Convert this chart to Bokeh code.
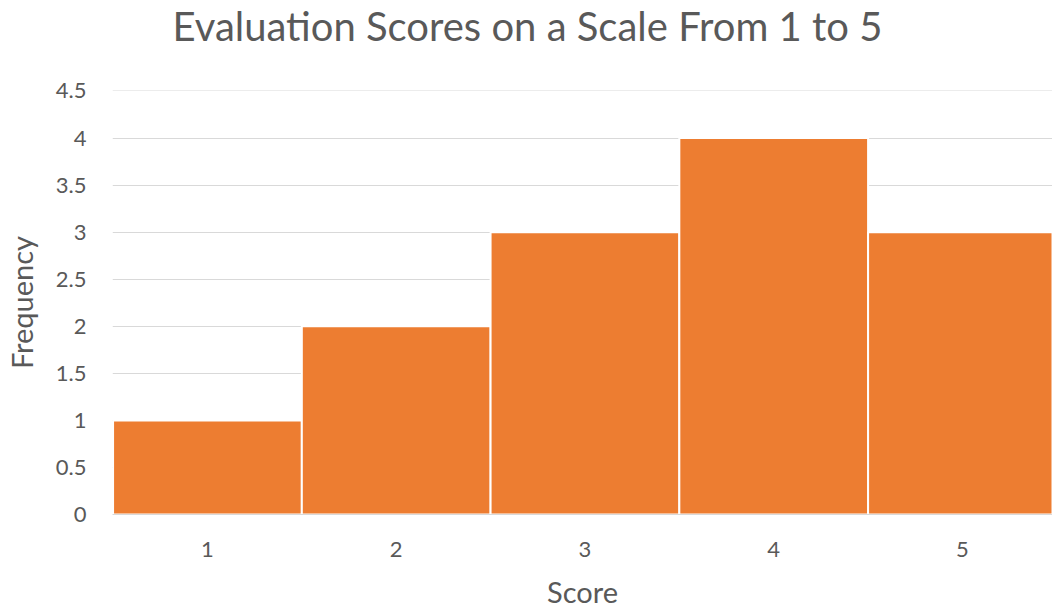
from bokeh.plotting import figure
from bokeh.models import ColumnDataSource, Range1d, FixedTicker, Title
from bokeh.embed import file_html
from bokeh.resources import INLINE

scores = [1, 2, 3, 4, 5]
frequency = [1, 2, 3, 4, 3]
y_ticks = [0, 0.5, 1, 1.5, 2, 2.5, 3, 3.5, 4, 4.5]
title_text = "Evaluation Scores on a Scale From 1 to 5"

FONT = "Lato"
GREY = "#595959"

src = ColumnDataSource(dict(x=scores, top=frequency))

p = figure(width=1052, height=611, output_backend="svg", toolbar_location=None,
           x_range=Range1d(0.497, 5.477), y_range=Range1d(0, 4.505))
p.min_border_left = 112
p.min_border_right = 0
p.min_border_top = 90
p.min_border_bottom = 0
p.outline_line_color = None
p.background_fill_color = "white"
p.border_fill_color = "white"

# empty spacer panel between the frame and the title, then the title itself
spacer = Title(text=" ", text_font=FONT, text_font_size="10px", standoff=25)
p.add_layout(spacer, "above")
main_title = Title(text=title_text, text_font=FONT, text_font_size="40px",
                   text_font_style="normal", text_color=GREY, align="left",
                   offset=60, standoff=0, vertical_align="top")
p.add_layout(main_title, "above")

p.vbar(x="x", top="top", width=1.0, source=src, fill_color="#ED7D31",
       line_color="white", line_width=2)

# axes
p.yaxis.ticker = FixedTicker(ticks=y_ticks)
p.yaxis.major_label_overrides = {0: "0", 1: "1", 2: "2", 3: "3", 4: "4"}
p.yaxis.axis_line_color = None
p.yaxis.major_tick_line_color = None
p.yaxis.minor_tick_line_color = None
p.yaxis.major_label_standoff = 20
p.yaxis.axis_label = "Frequency"
p.yaxis.axis_label_standoff = 14

p.xaxis.ticker = FixedTicker(ticks=scores)
p.xaxis.axis_line_color = "#D9D9D9"
p.xaxis.axis_line_width = 1
p.xaxis.major_tick_line_color = None
p.xaxis.minor_tick_line_color = None
p.xaxis.major_label_standoff = 21
p.xaxis.axis_label = "Score"
p.xaxis.axis_label_standoff = 14

for ax in (p.xaxis[0], p.yaxis[0]):
    ax.major_label_text_font = FONT
    ax.major_label_text_font_size = "22px"
    ax.major_label_text_color = GREY
    ax.axis_label_text_font = FONT
    ax.axis_label_text_font_size = "29px"
    ax.axis_label_text_font_style = "normal"
    ax.axis_label_text_color = GREY

p.xgrid.grid_line_color = None
p.ygrid.grid_line_color = "#D9D9D9"
p.ygrid.grid_line_width = 1

open("out.html", "w").write(file_html(p, INLINE))
